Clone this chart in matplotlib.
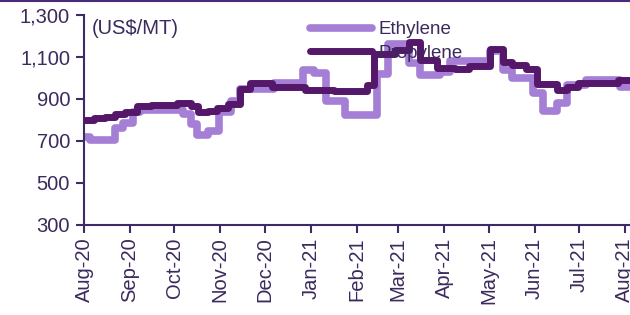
import matplotlib
matplotlib.use("Agg")
import matplotlib.pyplot as plt
import matplotlib.dates as mdates
from matplotlib.ticker import FuncFormatter, FixedLocator
from matplotlib.lines import Line2D
import pandas as pd

# ---- data ----
eth_dates = ["2020-07-31", "2020-08-05", "2020-08-22", "2020-08-27", "2020-09-03", "2020-09-08",
             "2020-10-07", "2020-10-12", "2020-10-16", "2020-10-24", "2020-10-31", "2020-11-08",
             "2020-11-14", "2020-12-07", "2020-12-27", "2021-01-03", "2021-01-11", "2021-01-24",
             "2021-02-15", "2021-02-22", "2021-03-08", "2021-03-16", "2021-03-29", "2021-04-05",
             "2021-05-02", "2021-05-11", "2021-05-17", "2021-05-31", "2021-06-07", "2021-06-16",
             "2021-06-23", "2021-07-06", "2021-07-29", "2021-08-06"]
eth_values = [720, 705, 760, 785, 840, 850,
              830, 780, 730, 750, 840, 890,
              950, 975, 1040, 1025, 890, 825,
              1020, 1160, 1070, 1015, 1030, 1080,
              1130, 1040, 1000, 930, 845, 880,
              965, 990, 955, 955]

pro_dates = ["2020-07-31", "2020-08-08", "2020-08-15", "2020-08-22", "2020-08-29", "2020-09-06",
             "2020-09-15", "2020-10-03", "2020-10-12", "2020-10-17", "2020-10-24", "2020-10-30",
             "2020-11-06", "2020-11-14", "2020-11-21", "2020-12-06", "2020-12-28", "2021-01-17",
             "2021-02-08", "2021-02-13", "2021-02-27", "2021-03-08", "2021-03-16", "2021-03-27",
             "2021-04-08", "2021-04-18", "2021-05-02", "2021-05-11", "2021-05-17", "2021-05-26",
             "2021-06-03", "2021-06-16", "2021-06-23", "2021-06-30", "2021-07-27", "2021-08-06"]
pro_values = [800, 808, 815, 830, 840, 868,
              872, 880, 868, 840, 845, 855,
              875, 950, 975, 955, 945, 940,
              965, 1115, 1135, 1170, 1085, 1050,
              1045, 1055, 1140, 1075, 1060, 1045,
              970, 943, 957, 975, 990, 990]

series_names = ["Ethylene", "Propylene"]
y_ticks = [300, 500, 700, 900, 1100, 1300]
unit_label = "(US$/MT)"

# ---- style ----
TXT = "#3b2a5c"
AX = "#3f2a68"
C_ETH = "#a57fd6"
C_PRO = "#55176a"
plt.rcParams["font.family"] = ["Liberation Sans", "DejaVu Sans"]

fig = plt.figure(figsize=(6.3, 3.15), dpi=100)
ax = fig.add_axes([84 / 630, 90 / 315, 1 - 84 / 630, (225 - 15) / 315])

ed = pd.to_datetime(eth_dates)
pdts = pd.to_datetime(pro_dates)
ax.plot(ed, eth_values, drawstyle="steps-post", color=C_ETH, lw=5.5,
        solid_joinstyle="round", solid_capstyle="round", label=series_names[0], zorder=2)
ax.plot(pdts, pro_values, drawstyle="steps-post", color=C_PRO, lw=5.0,
        solid_joinstyle="round", solid_capstyle="round", label=series_names[1], zorder=3)

ax.set_ylim(300, 1300)
ax.yaxis.set_major_locator(FixedLocator(y_ticks))
ax.yaxis.set_major_formatter(FuncFormatter(lambda v, p: f"{int(v):,}"))
ax.set_xlim(pd.Timestamp("2020-08-01"), pd.Timestamp("2021-08-04 10:00"))
ax.xaxis.set_major_locator(mdates.MonthLocator())
ax.xaxis.set_major_formatter(mdates.DateFormatter("%b-%y"))

for s in ["top", "right"]:
    ax.spines[s].set_visible(False)
for s in ["left", "bottom"]:
    ax.spines[s].set_color(AX)
    ax.spines[s].set_linewidth(1.5)
ax.tick_params(axis="both", colors=AX, width=1.5, length=6, labelcolor=TXT, labelsize=14.5)
ax.tick_params(axis="x", rotation=90, pad=3)
ax.tick_params(axis="y", pad=4)

fig.text(92 / 630, 1 - 28 / 315, unit_label, ha="left", va="center",
         color=TXT, fontsize=14.5)

leg = fig.legend(loc="upper left", bbox_to_anchor=(310 / 630, 1 - 21 / 315),
                 frameon=False, fontsize=13.5, handlelength=3.3, handletextpad=0.35,
                 labelspacing=0.35, borderpad=0, borderaxespad=0)
for t in leg.get_texts():
    t.set_color(TXT)

# top border line
fig.add_artist(Line2D([0, 1], [1 - 0.8 / 315, 1 - 0.8 / 315], transform=fig.transFigure,
                      color="#4a2a7a", lw=1.5))

fig.savefig("out.png", dpi=100)
